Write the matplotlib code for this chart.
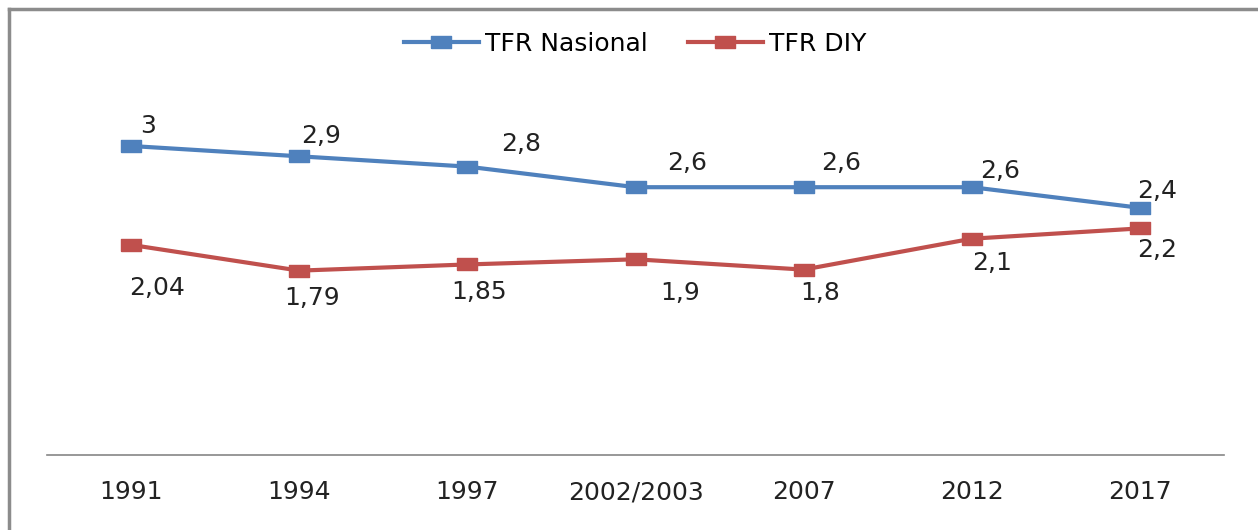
import matplotlib
matplotlib.use("Agg")
import matplotlib.pyplot as plt
from matplotlib.lines import Line2D

# --- data ---
years = ["1991", "1994", "1997", "2002/2003", "2007", "2012", "2017"]
tfr_nasional = [3, 2.9, 2.8, 2.6, 2.6, 2.6, 2.4]
tfr_diy = [2.04, 1.79, 1.85, 1.9, 1.8, 2.1, 2.2]

# label offsets in pixels (dx, dy), as placed in the original
nas_off = [(17, 20), (22, 20), (54, 23), (52, 24), (37, 24), (28, 16), (17, 17)]
diy_off = [(26, -43), (13, -27), (12, -28), (45, -34), (17, -23), (20, -24), (17, -22)]

BLUE = "#4F81BD"
RED = "#C0504D"
FS = 18

plt.rcParams['font.family'] = ['DejaVu Sans']
fig = plt.figure(figsize=(12.58, 5.30), dpi=100)
ax = fig.add_axes([47 / 1258, 75 / 530, (1224 - 47) / 1258, 360.5 / 530])

# wide square-ish marker (the original is stretched horizontally)
rect = [(-1.5, -1), (1.5, -1), (1.5, 1), (-1.5, 1), (-1.5, -1)]
x = list(range(len(years)))
ax.plot(x, tfr_nasional, color=BLUE, lw=3, marker=rect, ms=14, label="TFR Nasional")
ax.plot(x, tfr_diy, color=RED, lw=3, marker=rect, ms=14, label="TFR DIY")

for xi, v, (dx, dy) in zip(x, tfr_nasional, nas_off):
    ax.annotate(f"{v:g}".replace(".", ","), (xi, v), xytext=(dx, dy),
                textcoords="offset pixels", ha="center", va="center",
                fontsize=FS, color="#222222")
for xi, v, (dx, dy) in zip(x, tfr_diy, diy_off):
    ax.annotate(f"{v:g}".replace(".", ","), (xi, v), xytext=(dx, dy),
                textcoords="offset pixels", ha="center", va="center",
                fontsize=FS, color="#222222")

ax.set_xlim(-0.5, len(years) - 0.5)
ax.set_ylim(0, 3.5)
ax.set_xticks(x)
ax.set_xticklabels(years, fontsize=FS, color="#222222")
ax.tick_params(axis="x", length=0, pad=18)
ax.set_yticks([])
for s in ["top", "right", "left"]:
    ax.spines[s].set_visible(False)
ax.spines["bottom"].set_color("#868686")
ax.spines["bottom"].set_linewidth(1.2)

fig.legend(loc="center", bbox_to_anchor=(635 / 1258, 1 - 44 / 530), ncol=2,
           frameon=False, fontsize=FS, handlelength=3.0, handletextpad=0.25,
           columnspacing=1.6)

# outer frame (only top and left edges fall inside the image)
fig.add_artist(Line2D([9 / 1258, 9 / 1258], [0, 1 - 9 / 530], color="#8c8c8c", lw=2.5,
                      transform=fig.transFigure))
fig.add_artist(Line2D([9 / 1258, 1], [1 - 9 / 530, 1 - 9 / 530], color="#8c8c8c", lw=2.5,
                      transform=fig.transFigure))

fig.savefig("out.png", dpi=100)
